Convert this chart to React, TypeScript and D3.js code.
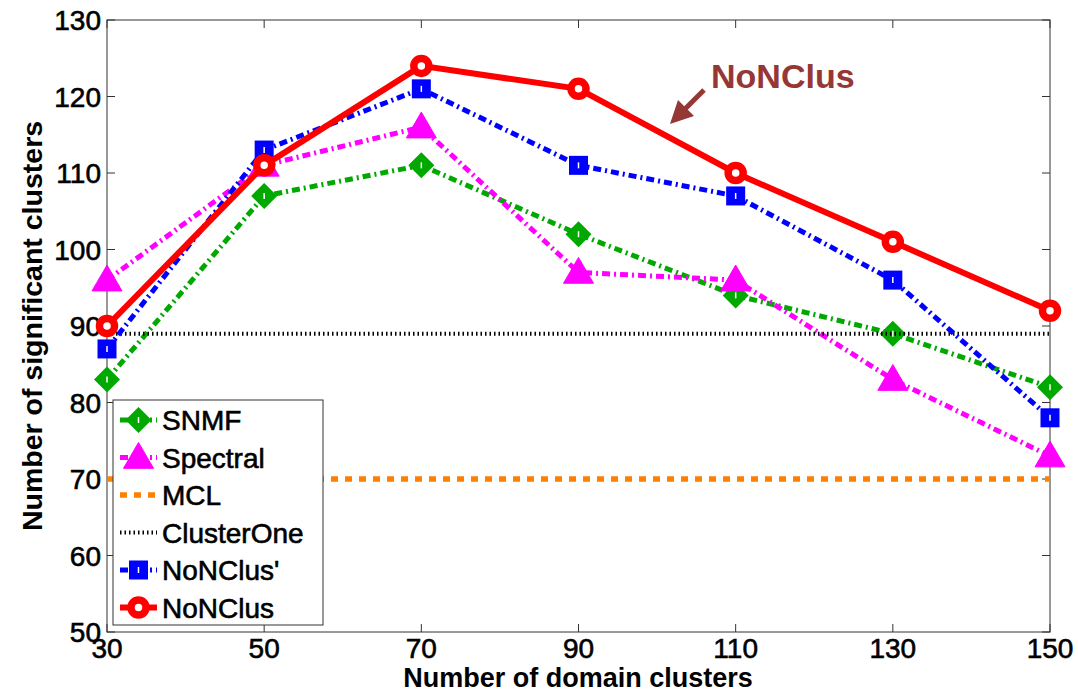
import { useEffect, useRef } from 'react'
import * as d3 from 'd3'

const xValues = [30, 50, 70, 90, 110, 130, 150]
const snmf = [83, 107, 111, 102, 94, 89, 82]
const spectral = [96, 111, 116, 97, 96, 83, 73]
const mcl = [70, 70, 70, 70, 70, 70, 70]
const clusterOne = [89, 89, 89, 89, 89, 89, 89]
const nonclusPrime = [87, 113, 121, 111, 107, 96, 78]
const nonclus = [90, 111, 124, 121, 110, 101, 92]
const yTicks = [50, 60, 70, 80, 90, 100, 110, 120, 130]

interface Series {
  name: string
  values: number[]
  color: string
  width: number
  dash: string
  marker: 'diamond' | 'triangle' | 'square' | 'circle' | null
}

const series: Series[] = [
  { name: 'SNMF', values: snmf, color: '#00a800', width: 5, dash: '8,4,2,4', marker: 'diamond' },
  { name: 'Spectral', values: spectral, color: '#ff00ff', width: 5, dash: '8,4,2,4', marker: 'triangle' },
  { name: 'MCL', values: mcl, color: '#ff8000', width: 5.5, dash: '7,7', marker: null },
  { name: 'ClusterOne', values: clusterOne, color: '#000000', width: 4, dash: '1.5,3', marker: null },
  { name: "NoNClus'", values: nonclusPrime, color: '#0000ff', width: 5, dash: '8,4,2,4', marker: 'square' },
  { name: 'NoNClus', values: nonclus, color: '#ff0000', width: 6, dash: '', marker: 'circle' },
]

const W = 1078
const H = 695
const FONT = '"Liberation Sans", Arial, sans-serif'

function drawMarker(g: d3.Selection<SVGGElement, unknown, null, undefined>, type: string, x: number, y: number, color: string) {
  if (type === 'circle') {
    g.append('circle').attr('cx', x).attr('cy', y).attr('r', 7.5)
      .attr('fill', 'white').attr('stroke', color).attr('stroke-width', 7.5)
  } else if (type === 'square') {
    g.append('rect').attr('x', x - 9.5).attr('y', y - 9.5).attr('width', 19).attr('height', 19)
      .attr('fill', color)
    g.append('line').attr('x1', x).attr('x2', x).attr('y1', y - 3).attr('y2', y + 3)
      .attr('stroke', 'white').attr('stroke-width', 1.5)
  } else if (type === 'diamond') {
    const s = 13
    g.append('path').attr('d', `M${x},${y - s}L${x + s},${y}L${x},${y + s}L${x - s},${y}Z`)
      .attr('fill', color)
    g.append('line').attr('x1', x).attr('x2', x).attr('y1', y - 3).attr('y2', y + 3)
      .attr('stroke', 'white').attr('stroke-width', 1.5)
  } else if (type === 'triangle') {
    const s = 15
    g.append('path').attr('d', `M${x},${y - s}L${x + s},${y + s * 0.72}L${x - s},${y + s * 0.72}Z`)
      .attr('fill', color).attr('stroke', color).attr('stroke-width', 1)
  }
}

export default function App() {
  const svgRef = useRef<SVGSVGElement>(null)

  useEffect(() => {
    if (!svgRef.current) return
    const svg = d3.select(svgRef.current)
    svg.selectAll('*').remove()

    const left = 107, right = 1050, top = 20, bottom = 632
    const x = d3.scaleLinear().domain([30, 150]).range([left, right])
    const y = d3.scaleLinear().domain([50, 130]).range([bottom, top])

    svg.append('rect').attr('width', W).attr('height', H).attr('fill', 'white')

    // frame
    svg.append('rect').attr('x', left).attr('y', top).attr('width', right - left).attr('height', bottom - top)
      .attr('fill', 'none').attr('stroke', '#333').attr('stroke-width', 1)

    const axes = svg.append('g').attr('stroke', '#333').attr('stroke-width', 1)
    xValues.forEach(v => {
      axes.append('line').attr('x1', x(v)).attr('x2', x(v)).attr('y1', bottom).attr('y2', bottom - 8)
      axes.append('line').attr('x1', x(v)).attr('x2', x(v)).attr('y1', top).attr('y2', top + 8)
    })
    yTicks.forEach(v => {
      axes.append('line').attr('x1', left).attr('x2', left + 8).attr('y1', y(v)).attr('y2', y(v))
      axes.append('line').attr('x1', right).attr('x2', right - 8).attr('y1', y(v)).attr('y2', y(v))
    })

    const labels = svg.append('g').attr('font-family', FONT).attr('font-size', 28).attr('fill', 'black')
      .attr('stroke', 'black').attr('stroke-width', 0.6)
    xValues.forEach(v => {
      labels.append('text').attr('x', x(v)).attr('y', bottom + 26).attr('text-anchor', 'middle').text(v)
    })
    yTicks.forEach(v => {
      labels.append('text').attr('x', left - 6).attr('y', y(v) + 10).attr('text-anchor', 'end').text(v)
    })

    svg.append('text').attr('x', 578).attr('y', 687).attr('text-anchor', 'middle')
      .attr('font-family', FONT).attr('font-size', 27).attr('font-weight', 'bold').text('Number of domain clusters')
    svg.append('text').attr('transform', `translate(42,${(top + bottom) / 2}) rotate(-90)`)
      .attr('text-anchor', 'middle').attr('font-family', FONT).attr('font-size', 28.5).attr('font-weight', 'bold')
      .text('Number of significant clusters')

    const line = d3.line<number>().x((_, i) => x(xValues[i])).y(d => y(d))

    series.forEach(s => {
      const g = svg.append('g')
      g.append('path').attr('d', line(s.values)).attr('fill', 'none').attr('stroke', s.color)
        .attr('stroke-width', s.width).attr('stroke-dasharray', s.dash || null)
      if (s.marker) {
        s.values.forEach((v, i) => drawMarker(g, s.marker as string, x(xValues[i]), y(v), s.color))
      }
    })

    // annotation
    const ann = '#953735'
    svg.append('text').attr('x', 711).attr('y', 88).attr('font-family', FONT).attr('font-size', 34)
      .attr('font-weight', 'bold').attr('fill', ann).text('NoNClus')
    svg.append('line').attr('x1', 704).attr('y1', 90).attr('x2', 683).attr('y2', 111)
      .attr('stroke', ann).attr('stroke-width', 5)
    svg.append('path').attr('d', 'M670,124L678,100L694,116Z').attr('fill', ann)

    // legend
    const lg = svg.append('g')
    lg.append('rect').attr('x', 113).attr('y', 400).attr('width', 210).attr('height', 225)
      .attr('fill', 'white').attr('stroke', '#333').attr('stroke-width', 1)
    series.forEach((s, i) => {
      const cy = 420 + i * 37.5
      lg.append('line').attr('x1', 120).attr('x2', 157).attr('y1', cy).attr('y2', cy)
        .attr('stroke', s.color).attr('stroke-width', s.width).attr('stroke-dasharray', s.dash || null)
      if (s.marker) drawMarker(lg, s.marker, 138.5, cy, s.color)
      lg.append('text').attr('x', 162).attr('y', cy + 10).attr('font-family', FONT).attr('font-size', 28)
        .attr('stroke', 'black').attr('stroke-width', 0.6)
        .text(s.name)
    })
  }, [])

  return <svg ref={svgRef} width={W} height={H} style={{ position: 'absolute', left: 0, top: 0 }} />
}
